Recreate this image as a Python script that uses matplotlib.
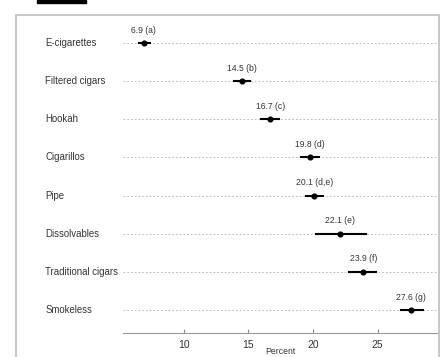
import matplotlib
matplotlib.use("Agg")
import matplotlib.pyplot as plt
from matplotlib.patches import Rectangle

plt.rcParams["font.family"] = ["Liberation Sans", "DejaVu Sans"]

products = ["E-cigarettes", "Filtered cigars", "Hookah", "Cigarillos", "Pipe",
            "Dissolvables", "Traditional cigars", "Smokeless"]
pct = [6.9, 14.5, 16.7, 19.8, 20.1, 22.1, 23.9, 27.6]
ci_lo = [6.5, 13.9, 16.0, 19.1, 19.5, 20.2, 22.8, 26.8]
ci_hi = [7.4, 15.1, 17.4, 20.5, 20.8, 24.1, 24.9, 28.5]
groups = ["a", "b", "c", "d", "d,e", "e", "f", "g"]

fig = plt.figure(figsize=(4.43, 3.57), dpi=100)
W, H = 443, 357

# outer frame of the screenshot panel
fig.patches.append(Rectangle((16 / W, -0.05), (439 - 16) / W, 1.05 - 15 / H,
                             transform=fig.transFigure, fill=False,
                             edgecolor="#bdbdbd", linewidth=1.2))
# cropped black box at the top
fig.patches.append(Rectangle((37 / W, 1 - 2.5 / H), 49 / W, 2.5 / H,
                             transform=fig.transFigure, color="black"))

ax = fig.add_axes([123 / W, 24 / H, (437 - 123) / W, (333 - 15) / H])
ys = list(range(len(products)))

for y, name, v, lo, hi, g in zip(ys, products, pct, ci_lo, ci_hi, groups):
    ax.axhline(y, color="#b0b0b0", linewidth=0.6, linestyle=(0, (2, 2.5)), zorder=1)
    ax.plot([lo, hi], [y, y], color="black", linewidth=1.5, zorder=2)
    ax.plot(v, y, "o", color="black", markersize=3.4, zorder=3)
    ax.text(v, y - 0.34, f"{v} ({g})", ha="center", va="center",
            fontsize=6.2, color="#333333")
    ax.text(-0.248, y, name, transform=ax.get_yaxis_transform(),
            ha="left", va="center", fontsize=6.9, color="#333333")

ax.set_xlim(5.3, 29.6)
ax.set_ylim(7.6, -0.735)
ax.set_xticks([10, 15, 20, 25])
ax.tick_params(axis="x", direction="in", length=3, color="#888888",
               labelsize=7.5, labelcolor="#333333", pad=5)
ax.set_yticks([])
for s in ["left", "right", "top"]:
    ax.spines[s].set_visible(False)
ax.spines["bottom"].set_color("#999999")
ax.spines["bottom"].set_linewidth(0.8)
ax.set_xlabel("Percent", fontsize=6.2, color="#333333", labelpad=-2)

fig.savefig("out.png", dpi=100)
